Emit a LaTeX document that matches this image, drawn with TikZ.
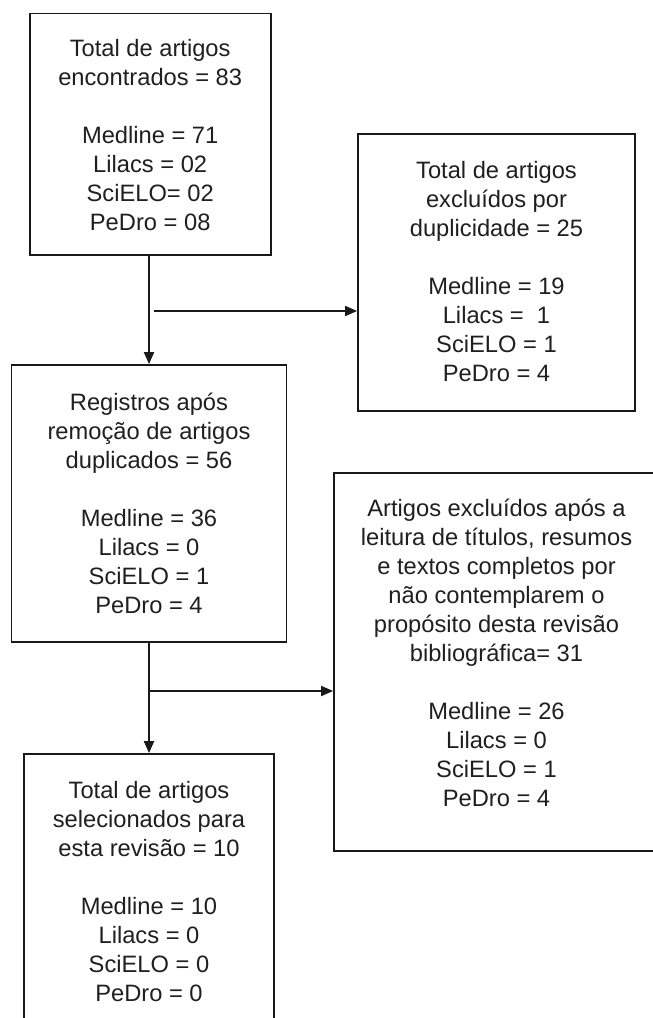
\documentclass[tikz,border=0pt]{standalone}
\usepackage{fontspec}
\setmainfont{Liberation Sans}
\usetikzlibrary{arrows.meta}
\tikzset{
  boxnode/.style={draw=black!90, line width=1.8pt, rectangle, inner sep=0pt},
  txt/.style={align=center, inner sep=0pt, text=black!88, font=\fontsize{23.7}{29}\selectfont},
  arr/.style={draw=black!90, line width=1.8pt, -{Triangle[length=12pt,width=10pt]}}
}
\begin{document}
\begin{tikzpicture}[x=1pt,y=-1pt]
\useasboundingbox (0,0) rectangle (653,1018);
\clip (0,0) rectangle (653,1018);
% boxes
\node[boxnode, minimum width=241pt, minimum height=241.5pt] (b1) at (150.2,134.3) {};
\node[boxnode, minimum width=277pt, minimum height=277pt] (b2) at (496.5,272.3) {};
\node[boxnode, minimum width=275pt, minimum height=277pt] (b3) at (149,503.5) {};
\node[boxnode, minimum width=325pt, minimum height=378pt] (b4) at (496.5,662) {};
\node[boxnode, minimum width=250pt, minimum height=275pt] (b5) at (149,891.5) {};
% texts
\node[txt] (t1) at (150.2,135.5) {Total de artigos\\encontrados = 83\\[29pt]Medline = 71\\Lilacs = 02\\SciELO= 02\\PeDro = 08};
\node[txt] (t2) at (496.5,271.5) {Total de artigos\\excluídos por\\duplicidade = 25\\[29pt]Medline = 19\\Lilacs =\ \ 1\\SciELO = 1\\PeDro = 4};
\node[txt] (t3) at (149,503) {Registros após\\remoção de artigos\\duplicados = 56\\[29pt]Medline = 36\\Lilacs = 0\\SciELO = 1\\PeDro = 4};
\node[txt] (t4) at (496.5,653) {Artigos excluídos após a\\leitura de títulos, resumos\\e textos completos por\\não contemplarem o\\propósito desta revisão\\bibliográfica= 31\\[29pt]Medline = 26\\Lilacs = 0\\SciELO = 1\\PeDro = 4};
\node[txt] (t5) at (149,891.5) {Total de artigos\\selecionados para\\esta revisão = 10\\[29pt]Medline = 10\\Lilacs = 0\\SciELO = 0\\PeDro = 0};
% connectors
\coordinate (c1) at (154,311);
\coordinate (c2) at (149,691);
\draw[arr] (b1.south -| b3.north) -- (b3.north);
\draw[arr] (c1) -- (c1 -| b2.west);
\draw[arr] (b3.south) -- (b3.south |- b5.north);
\draw[arr] (c2) -- (c2 -| b4.west);
\end{tikzpicture}
\end{document}
